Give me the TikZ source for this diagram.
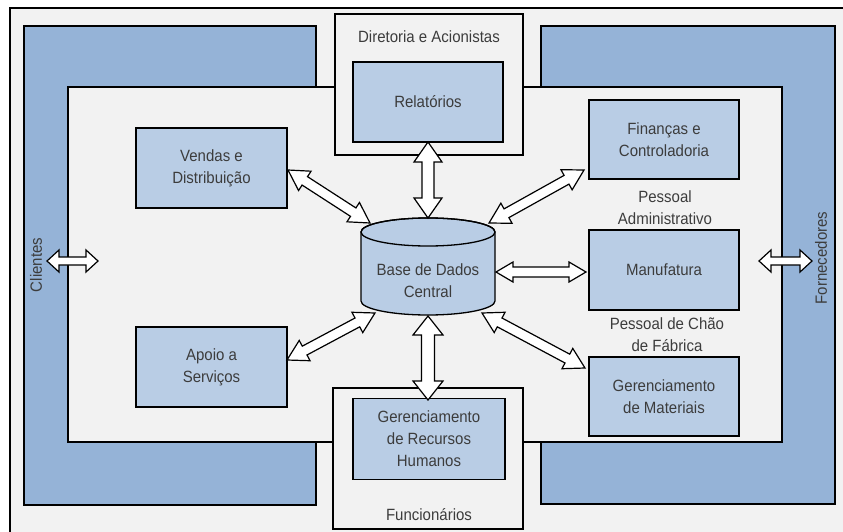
\documentclass[tikz,border=0pt]{standalone}
\usepackage{fontspec}
\setmainfont{Liberation Sans}[FakeStretch=0.92]
\usetikzlibrary{calc}
\definecolor{bandc}{HTML}{95B3D7}
\definecolor{boxc}{HTML}{B9CDE5}
\definecolor{bgc}{HTML}{F2F2F2}
\definecolor{txtc}{HTML}{3C3C3C}
\tikzset{
  panel/.style={draw=black, line width=1.3pt, fill=bgc},
  bandbox/.style={draw=black, line width=1.3pt, fill=bandc},
  modbox/.style={draw=black, line width=1.3pt, fill=boxc, text=txtc, align=center,
    font=\fontsize{16.3}{22}\selectfont, inner sep=0pt},
  lbl/.style={text=txtc, align=center, font=\fontsize{16.3}{22}\selectfont, inner sep=0pt},
  arr/.style={draw=black, line width=1.2pt, fill=white, line join=miter},
}
% #1 start, #2 end, #3 half shaft, #4 half head, #5 head length
\newcommand\dblarr[5]{%
  \draw[arr] (#1)
  -- ($(#1)!#5!(#2)!#4!90:(#2)$)
  -- ($(#1)!#5!(#2)!#3!90:(#2)$)
  -- ($(#2)!#5!(#1)!#3!-90:(#1)$)
  -- ($(#2)!#5!(#1)!#4!-90:(#1)$)
  -- (#2)
  -- ($(#2)!#5!(#1)!#4!90:(#1)$)
  -- ($(#2)!#5!(#1)!#3!90:(#1)$)
  -- ($(#1)!#5!(#2)!#3!-90:(#2)$)
  -- ($(#1)!#5!(#2)!#4!-90:(#2)$)
  -- cycle;}
\begin{document}
\begin{tikzpicture}[x=1pt, y=-1pt]
\useasboundingbox (0,0) rectangle (843,532);
\fill[white] (0,0) rectangle (843,532);
\fill[bgc] (10,8) rectangle (843,532);
\draw[line width=2pt] (10,532) -- (10,8) -- (843,8);
% blue bands
\draw[bandbox] (24,26) rectangle (316,505);
\draw[bandbox] (541,26) rectangle (835,504);
% inner panel
\draw[panel] (68,87) rectangle (782,442);
% top and bottom group boxes
\draw[panel] (335,14) rectangle (523,155);
\draw[panel] (333,388) rectangle (523,529);
% labels
\node[lbl] (dir) at (429,37) {Diretoria e Acionistas};
\node[lbl] (func) at (429,515) {Funcionários};
\node[lbl] (padm) at (665,207.5) {Pessoal\\Administrativo};
\node[lbl] (pcf) at (667,334.5) {Pessoal de Chão\\de Fábrica};
\node[lbl, rotate=90] (cli) at (36,265) {Clientes};
\node[lbl, rotate=90] (forn) at (821,258) {Fornecedores};
% module boxes
\node[modbox, minimum width=150pt, minimum height=80pt] (rel) at (428,102) {Relatórios};
\node[modbox, minimum width=151pt, minimum height=80pt] (ven) at (211.5,168) {Vendas e\\Distribuição};
\node[modbox, minimum width=151pt, minimum height=80pt] (apo) at (211.5,367) {Apoio a\\Serviços};
\node[modbox, minimum width=150pt, minimum height=79pt] (fin) at (664,139.5) {Finanças e\\Controladoria};
\node[modbox, minimum width=150pt, minimum height=80pt] (man) at (664,270) {Manufatura};
\node[modbox, minimum width=150pt, minimum height=79pt] (mat) at (664,396.5) {Gerenciamento\\de Materiais};
\node[modbox, minimum width=152pt, minimum height=81pt] (rh) at (429,439) {Gerenciamento\\de Recursos\\Humanos};
% central database cylinder
\draw[line width=1.3pt, fill=boxc] (361,232) -- (361,301) arc (180:360:67pt and 14pt)
  -- (495,232) arc (0:180:67pt and 14pt) -- cycle;
\draw[line width=1.3pt] (428,232) ellipse [x radius=67pt, y radius=14pt];
\node[lbl] (db) at (428,281) {Base de Dados\\Central};
% arrow end points
\coordinate (dbN) at (428,218);
\coordinate (dbS) at (428,316);
\coordinate (dbNW) at (370,223);
\coordinate (dbNE) at (489,223);
\coordinate (dbE) at (496,272);
\coordinate (dbSE) at (482,313);
\coordinate (dbSW) at (375,313);
\coordinate (venE) at (288,170);
\coordinate (finW) at (584,170);
\coordinate (manW) at (586,272);
\coordinate (matW) at (585,368);
\coordinate (apoE) at (287,360);
\coordinate (relS) at (428,142);
\coordinate (rhN) at (428,400);
\coordinate (cliA) at (47,261);
\coordinate (cliB) at (98,261);
\coordinate (forA) at (759,261);
\coordinate (forB) at (812,261);
% arrows
\dblarr{relS}{dbN}{6pt}{14pt}{20pt}
\dblarr{dbS}{rhN}{6.5pt}{15pt}{19pt}
\dblarr{venE}{dbNW}{5pt}{11.5pt}{20pt}
\dblarr{finW}{dbNE}{5pt}{11.5pt}{20pt}
\dblarr{dbE}{manW}{5pt}{10pt}{17pt}
\dblarr{dbSE}{matW}{5pt}{11.5pt}{20pt}
\dblarr{apoE}{dbSW}{5pt}{11.5pt}{20pt}
\dblarr{cliA}{cliB}{4pt}{11pt}{12pt}
\dblarr{forA}{forB}{4pt}{11pt}{12pt}
\end{tikzpicture}
\end{document}
